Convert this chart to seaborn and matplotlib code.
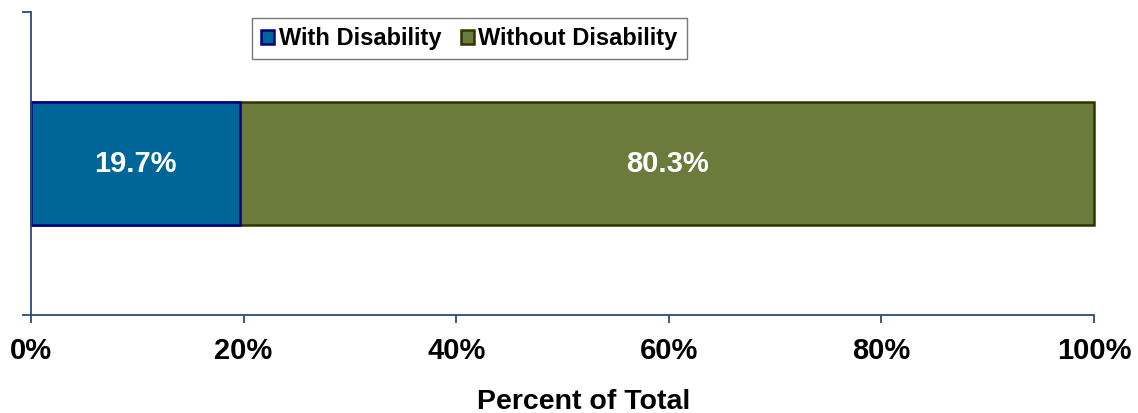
import matplotlib
matplotlib.use("Agg")
import matplotlib.pyplot as plt
import seaborn as sns
import numpy as np
import pandas as pd
from matplotlib.patches import Patch

categories = ["With Disability", "Without Disability"]
values = [19.7, 80.3]
tick_labels = ["0%", "20%", "40%", "60%", "80%", "100%"]
tick_values = [0, 20, 40, 60, 80, 100]
fill_colors = ["#006699", "#6B7B3B"]
edge_colors = ["#000080", "#333300"]

sns.set_theme(style="white")
plt.rcParams['font.family'] = ['Liberation Sans', 'DejaVu Sans']
plt.rcParams['text.color'] = 'black'
plt.rcParams['axes.labelcolor'] = 'black'
plt.rcParams['xtick.color'] = 'black'

fig = plt.figure(figsize=(11.38, 4.13), dpi=100)
ax = fig.add_axes([31/1138, 1-315/413, (1094-31)/1138, 303/413])

cum = np.cumsum(values)
# draw from the right-most (cumulative) down so left segments overlay
for i in reversed(range(len(categories))):
    df = pd.DataFrame({"row": ["all"], "val": [cum[i]]})
    sns.barplot(data=df, x="val", y="row", orient="h", color=fill_colors[i],
                saturation=1, width=0.405, edgecolor=edge_colors[i],
                linewidth=1.8, ax=ax)
for p in ax.patches:
    p.set_clip_on(False)

starts = np.concatenate([[0], cum[:-1]])
for s, v in zip(starts, values):
    ax.text(s + v/2, 0, f"{v:.1f}%", ha="center", va="center", color="white",
            fontsize=21, fontweight="bold")

ax.set_xlim(0, 100)
ax.set_ylim(0.5, -0.5)
ax.set_xticks(tick_values)
ax.set_xticklabels(tick_labels, fontsize=21, fontweight="bold", color="black")
ax.set_yticks([-0.5, 0.5])
ax.set_yticklabels([])
ax.set_ylabel("")
ax.set_xlabel("Percent of Total", fontsize=20.5, fontweight="bold", color="black")
ax.xaxis.set_label_coords(0.52, -0.245)

spine_color = "#2E4A7A"
for side in ["top", "right"]:
    ax.spines[side].set_visible(False)
for side in ["left", "bottom"]:
    ax.spines[side].set_color(spine_color)
    ax.spines[side].set_linewidth(1.3)
ax.tick_params(axis="x", direction="out", length=6, width=1.3, color=spine_color,
               labelcolor="black", pad=10, bottom=True)
ax.tick_params(axis="y", direction="out", length=6.5, width=1.3, color=spine_color,
               left=True)

handles = [Patch(facecolor=fc, edgecolor=ec, linewidth=1.8, label=c)
           for c, fc, ec in zip(categories, fill_colors, edge_colors)]
leg = ax.legend(handles=handles, loc="center", bbox_to_anchor=(0.4125, 0.9125),
                ncol=2, frameon=True, fancybox=False, handlelength=0.55,
                handleheight=0.55, handletextpad=0.2, columnspacing=0.8,
                borderpad=0.4, prop={"weight": "bold", "size": 17})
for t in leg.get_texts():
    t.set_color("black")
leg.get_frame().set_edgecolor("#555555")
leg.get_frame().set_linewidth(1.0)

fig.savefig("out.png", dpi=100)
